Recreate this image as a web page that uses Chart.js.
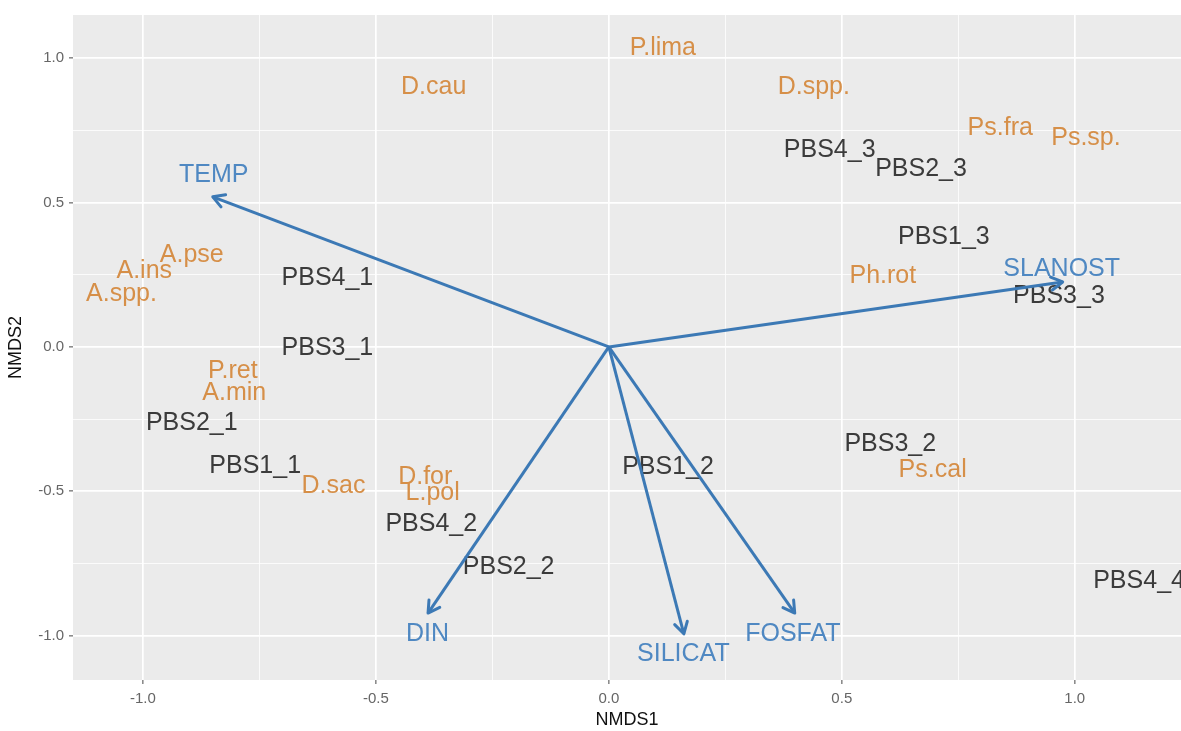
<!DOCTYPE html>
<html>
<head>
<meta charset="utf-8">
<script src="https://cdn.jsdelivr.net/npm/chart.js@4.4.0/dist/chart.umd.min.js"></script>
<style>
  html, body { margin: 0; padding: 0; background: #ffffff; }
  canvas { display: block; }
</style>
</head>
<body>
<canvas id="c" width="1181" height="731"></canvas>
<script>
// ---- Data ----
const siteNames = ["PBS4_3","PBS2_3","PBS1_3","PBS3_3","PBS4_1","PBS3_1","PBS2_1","PBS1_1","PBS4_2","PBS2_2","PBS1_2","PBS3_2","PBS4_4"];
const siteX = [0.474, 0.670, 0.719, 0.966, -0.604, -0.604, -0.895, -0.759, -0.381, -0.215, 0.127, 0.604, 1.138];
const siteY = [0.683, 0.617, 0.379, 0.175, 0.237, -0.003, -0.263, -0.412, -0.613, -0.764, -0.416, -0.336, -0.811];

const speciesNames = ["P.lima","D.cau","D.spp.","Ps.fra","Ps.sp.","A.pse","A.ins","A.spp.","Ph.rot","P.ret","A.min","D.sac","D.for","L.pol","Ps.cal"];
const speciesX = [0.116, -0.376, 0.440, 0.840, 1.024, -0.895, -0.997, -1.046, 0.588, -0.807, -0.804, -0.591, -0.394, -0.378, 0.695];
const speciesY = [1.034, 0.899, 0.901, 0.757, 0.722, 0.319, 0.262, 0.184, 0.246, -0.083, -0.161, -0.483, -0.452, -0.508, -0.428];

const envNames = ["TEMP","SLANOST","DIN","SILICAT","FOSFAT"];
const envX = [-0.850, 0.974, -0.388, 0.161, 0.399];
const envY = [0.520, 0.225, -0.922, -0.994, -0.922];
const envLabelX = [-0.848, 0.972, -0.389, 0.160, 0.395];
const envLabelY = [0.596, 0.270, -0.994, -1.064, -0.994];

const tickValues = [-1.0, -0.5, 0.0, 0.5, 1.0];
const xTitle = "NMDS1";
const yTitle = "NMDS2";

// ---- Styles ----
const SITE_COLOR = "#3b3b3b";
const SPECIES_COLOR = "#D68F48";
const ENV_COLOR = "#3C79B5";
const ENV_LABEL_COLOR = "#4F88C2";
const LABEL_FONT = "25px 'Liberation Sans', Arial, sans-serif";
const FONT_FAMILY = "'Liberation Sans', Arial, sans-serif";

const isMajor = v => tickValues.some(t => Math.abs(t - v) < 1e-6);

const datasets = [];
datasets.push({
  label: "sites", kind: "text", textLabels: siteNames, textColor: SITE_COLOR,
  data: siteX.map((x, i) => ({x, y: siteY[i]})), pointRadius: 0, showLine: false
});
datasets.push({
  label: "species", kind: "text", textLabels: speciesNames, textColor: SPECIES_COLOR,
  data: speciesX.map((x, i) => ({x, y: speciesY[i]})), pointRadius: 0, showLine: false
});
envNames.forEach((n, i) => {
  datasets.push({
    label: n, kind: "arrow",
    data: [{x: 0, y: 0}, {x: envX[i], y: envY[i]}],
    showLine: true, borderColor: ENV_COLOR, borderWidth: 3, pointRadius: 0, clip: false
  });
});
datasets.push({
  label: "envLabels", kind: "toptext", textLabels: envNames, textColor: ENV_LABEL_COLOR,
  data: envLabelX.map((x, i) => ({x, y: envLabelY[i]})), pointRadius: 0, showLine: false
});

function drawTexts(chart, kind) {
  const ctx = chart.ctx;
  chart.data.datasets.forEach((ds, di) => {
    if (ds.kind !== kind) return;
    const meta = chart.getDatasetMeta(di);
    ctx.save();
    ctx.font = LABEL_FONT;
    ctx.fillStyle = ds.textColor;
    ctx.textAlign = "center";
    ctx.textBaseline = "middle";
    meta.data.forEach((el, i) => ctx.fillText(ds.textLabels[i], el.x, el.y));
    ctx.restore();
  });
}

const labelPlugin = {
  id: "labels",
  beforeDraw(chart) {
    const a = chart.chartArea, ctx = chart.ctx;
    ctx.save();
    ctx.fillStyle = "#EBEBEB";
    ctx.fillRect(a.left, a.top, a.right - a.left, a.bottom - a.top);
    ctx.restore();
  },
  beforeDatasetsDraw(chart) {
    drawTexts(chart, "text");
  },
  afterDatasetsDraw(chart) {
    const ctx = chart.ctx;
    chart.data.datasets.forEach((ds, di) => {
      if (ds.kind !== "arrow") return;
      const meta = chart.getDatasetMeta(di);
      const p0 = meta.data[0], p1 = meta.data[1];
      const ang = Math.atan2(p1.y - p0.y, p1.x - p0.x);
      const len = 13, spread = Math.PI / 6;
      ctx.save();
      ctx.strokeStyle = ENV_COLOR;
      ctx.lineWidth = 3;
      ctx.lineCap = "round";
      ctx.lineJoin = "round";
      ctx.beginPath();
      ctx.moveTo(p1.x - len * Math.cos(ang - spread), p1.y - len * Math.sin(ang - spread));
      ctx.lineTo(p1.x, p1.y);
      ctx.lineTo(p1.x - len * Math.cos(ang + spread), p1.y - len * Math.sin(ang + spread));
      ctx.stroke();
      ctx.restore();
    });
    drawTexts(chart, "toptext");
  }
};

const gridWidth = c => isMajor(c.tick.value) ? 1.7 : 0.8;
const tickCol = c => isMajor(c.tick.value) ? "#666666" : "rgba(0,0,0,0)";

new Chart(document.getElementById("c"), {
  type: "scatter",
  data: { datasets },
  options: {
    responsive: false,
    animation: false,
    devicePixelRatio: 1,
    layout: { padding: { top: 15, right: 0, left: 0, bottom: 0 } },
    plugins: { legend: { display: false }, tooltip: { enabled: false } },
    scales: {
      x: {
        type: "linear", min: -1.150, max: 1.228,
        border: { display: false },
        grid: { color: "#ffffff", lineWidth: gridWidth, tickColor: tickCol, tickLength: 4, tickWidth: 1.2 },
        ticks: {
          stepSize: 0.25, includeBounds: false, autoSkip: false, maxRotation: 0,
          padding: 6, color: "#666666",
          font: { family: FONT_FAMILY, size: 15 },
          callback: v => isMajor(v) ? v.toFixed(1) : ""
        },
        title: { display: true, text: xTitle, color: "#111111", padding: 0,
          font: { family: FONT_FAMILY, size: 18 } },
        afterFit: s => { s.height = 51; }
      },
      y: {
        type: "linear", min: -1.154, max: 1.150,
        border: { display: false },
        grid: { color: "#ffffff", lineWidth: gridWidth, tickColor: tickCol, tickLength: 4, tickWidth: 1.2 },
        ticks: {
          stepSize: 0.25, includeBounds: false, autoSkip: false,
          padding: 5, color: "#666666",
          font: { family: FONT_FAMILY, size: 15 },
          callback: v => isMajor(v) ? v.toFixed(1) : ""
        },
        title: { display: true, text: yTitle, color: "#111111", padding: { top: 5, bottom: 0 },
          font: { family: FONT_FAMILY, size: 18 } },
        afterFit: s => { s.width = 73; }
      }
    }
  },
  plugins: [labelPlugin]
});
</script>
</body>
</html>
